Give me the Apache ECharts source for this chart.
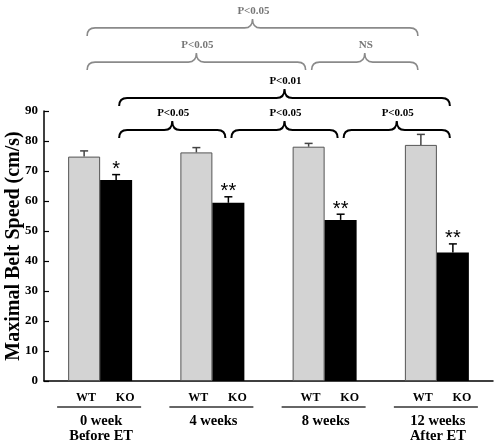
<!DOCTYPE html>
<html>
<head>
<meta charset="utf-8">
<script src="https://cdn.jsdelivr.net/npm/echarts@6/dist/echarts.min.js"></script>
<style>html,body{margin:0;padding:0;background:#fff}#c{width:494px;height:444px}</style>
</head>
<body>
<div id="c"></div>
<script>
// ---- data ----
const categories = ['0 week', '4 weeks', '8 weeks', '12 weeks'];
const subLabels = ['Before ET', '', '', 'After ET'];
const genotypes = ['WT', 'KO'];
const wtValues = [74.8, 76.2, 78.1, 78.7];
const koValues = [67.0, 59.4, 53.7, 42.8];
const wtErrors = [1.9, 1.6, 1.1, 3.5];
const koErrors = [1.8, 2.0, 1.9, 2.9];
const koStars = ['*', '**', '**', '**'];
const yMin = 0, yMax = 90, yStep = 10;
const yTitle = 'Maximal Belt Speed (cm/s)';
// significance braces (group index from / to, which genotype, label, tier)
const braceFrom = [0, 1, 2, 0, 0, 2, 0];
const braceTo = [1, 2, 3, 3, 2, 3, 3];
const braceGeno = ['KO', 'KO', 'KO', 'KO', 'WT', 'WT', 'WT'];
const braceLabels = ['P<0.05', 'P<0.05', 'P<0.05', 'P<0.01', 'P<0.05', 'NS', 'P<0.05'];
const braceTier = [0, 0, 0, 1, 2, 2, 3];

// ---- layout / style ----
const BAR_W = 32;
const SERIF = '"Liberation Serif","Times New Roman",serif';
const tierLevel = [83.7, 94.3, 106.3, 117.7]; // in axis value units
const genoColor = { WT: '#8a8a8a', KO: '#000' };
const genoLW = { WT: 1.6, KO: 2 };

function barOffset(geno) { return geno === 'WT' ? -BAR_W / 2 : BAR_W / 2; }

const errData = [];
for (let i = 0; i < categories.length; i++) {
  errData.push([i, wtValues[i], wtErrors[i], 0]);
  errData.push([i, koValues[i], koErrors[i], 1]);
}
const braceData = braceFrom.map((f, k) => [f, braceTo[k], k]);
const groupData = categories.map((c, i) => [i, 0]);

function renderErr(params, api) {
  const i = api.value(0), v = api.value(1), e = api.value(2), g = api.value(3);
  const geno = genotypes[g];
  const base = api.coord([i, v]);
  const top = api.coord([i, v + e]);
  const x = base[0] + barOffset(geno);
  const col = geno === 'WT' ? '#444' : '#000';
  const children = [
    { type: 'line', shape: { x1: x, y1: base[1], x2: x, y2: top[1] }, style: { stroke: col, lineWidth: 1.5 } },
    { type: 'line', shape: { x1: x - 4, y1: top[1], x2: x + 4, y2: top[1] }, style: { stroke: col, lineWidth: 1.5 } }
  ];
  if (geno === 'KO') {
    children.push({ type: 'text', style: { text: koStars[i], x: x, y: top[1] - 5, align: 'center', verticalAlign: 'middle', font: '20px "Liberation Sans",Arial,sans-serif', fill: '#000' } });
  }
  return { type: 'group', children };
}

function renderBrace(params, api) {
  const k = api.value(2);
  const geno = braceGeno[k];
  const lvl = tierLevel[braceTier[k]];
  const off = barOffset(geno);
  const x1 = api.coord([braceFrom[k], lvl])[0] + off + 3;
  const x2 = api.coord([braceTo[k], lvl])[0] + off - 3;
  const yl = api.coord([braceFrom[k], lvl])[1];
  const xm = (x1 + x2) / 2;
  const d = 8, t = 9, r = 8;
  const p = `M${x1},${yl + d} Q${x1},${yl} ${x1 + r},${yl} L${xm - r},${yl} Q${xm},${yl} ${xm},${yl - t} Q${xm},${yl} ${xm + r},${yl} L${x2 - r},${yl} Q${x2},${yl} ${x2},${yl + d}`;
  return {
    type: 'group',
    children: [
      { type: 'path', shape: { pathData: p }, style: { fill: 'none', stroke: genoColor[geno], lineWidth: genoLW[geno] } },
      { type: 'text', style: { text: braceLabels[k], x: xm + 1, y: yl - t - 8, align: 'center', verticalAlign: 'middle', font: 'bold 11px ' + SERIF, fill: geno === 'WT' ? '#777' : '#000' } }
    ]
  };
}

function renderGroup(params, api) {
  const i = api.value(0);
  const c = api.coord([i, 0]);
  const x = c[0], y0 = c[1];
  return {
    type: 'group',
    children: [
      { type: 'text', style: { text: genotypes[0], x: x - 14, y: y0 + 17, align: 'center', verticalAlign: 'middle', font: 'bold 12px ' + SERIF, fill: '#000' } },
      { type: 'text', style: { text: genotypes[1], x: x + 25, y: y0 + 17, align: 'center', verticalAlign: 'middle', font: 'bold 12px ' + SERIF, fill: '#000' } },
      { type: 'line', shape: { x1: x - 43, y1: y0 + 26, x2: x + 41, y2: y0 + 26 }, style: { stroke: '#333', lineWidth: 1.5 } },
      { type: 'text', style: { text: categories[i], x: x + 1, y: y0 + 40, align: 'center', verticalAlign: 'middle', font: 'bold 14.5px ' + SERIF, fill: '#000' } },
      { type: 'text', style: { text: subLabels[i], x: x + 1, y: y0 + 55, align: 'center', verticalAlign: 'middle', font: 'bold 14.5px ' + SERIF, fill: '#000' } }
    ]
  };
}

const chart = echarts.init(document.getElementById('c'), null, { renderer: 'canvas' });
chart.setOption({
  animation: false,
  backgroundColor: '#fff',
  grid: { left: 44, right: 1, top: 111, bottom: 63, containLabel: false, outerBoundsMode: 'none' },
  xAxis: {
    type: 'category', data: categories,
    axisLine: { lineStyle: { color: '#000', width: 1.5 } },
    axisTick: { show: false }, axisLabel: { show: false }, splitLine: { show: false }
  },
  yAxis: {
    type: 'value', min: yMin, max: yMax, interval: yStep,
    name: yTitle, nameLocation: 'middle', nameGap: 20, nameRotate: 90, nameMoveOverlap: false,
    nameTextStyle: { fontFamily: SERIF, fontWeight: 'bold', fontSize: 20, color: '#000' },
    axisLine: { show: true, lineStyle: { color: '#000', width: 1.5 } },
    axisTick: { show: true, inside: true, length: 5, lineStyle: { color: '#000', width: 1.2 } },
    axisLabel: { fontFamily: SERIF, fontWeight: 'bold', fontSize: 13, color: '#000', margin: 6 },
    splitLine: { show: false }
  },
  series: [
    { name: 'WT', type: 'bar', data: wtValues, barWidth: BAR_W, barGap: '0%', itemStyle: { color: '#d3d3d3', borderColor: '#555', borderWidth: 1 }, z: 2 },
    { name: 'KO', type: 'bar', data: koValues, barWidth: BAR_W, barGap: '0%', itemStyle: { color: '#000' }, z: 2 },
    { type: 'custom', data: errData, renderItem: renderErr, encode: { x: 0, y: 1 }, z: 3, clip: false },
    { type: 'custom', data: braceData, renderItem: renderBrace, encode: { x: 0 }, z: 3, clip: false },
    { type: 'custom', data: groupData, renderItem: renderGroup, encode: { x: 0, y: 1 }, z: 3, clip: false }
  ]
});
</script>
</body>
</html>
